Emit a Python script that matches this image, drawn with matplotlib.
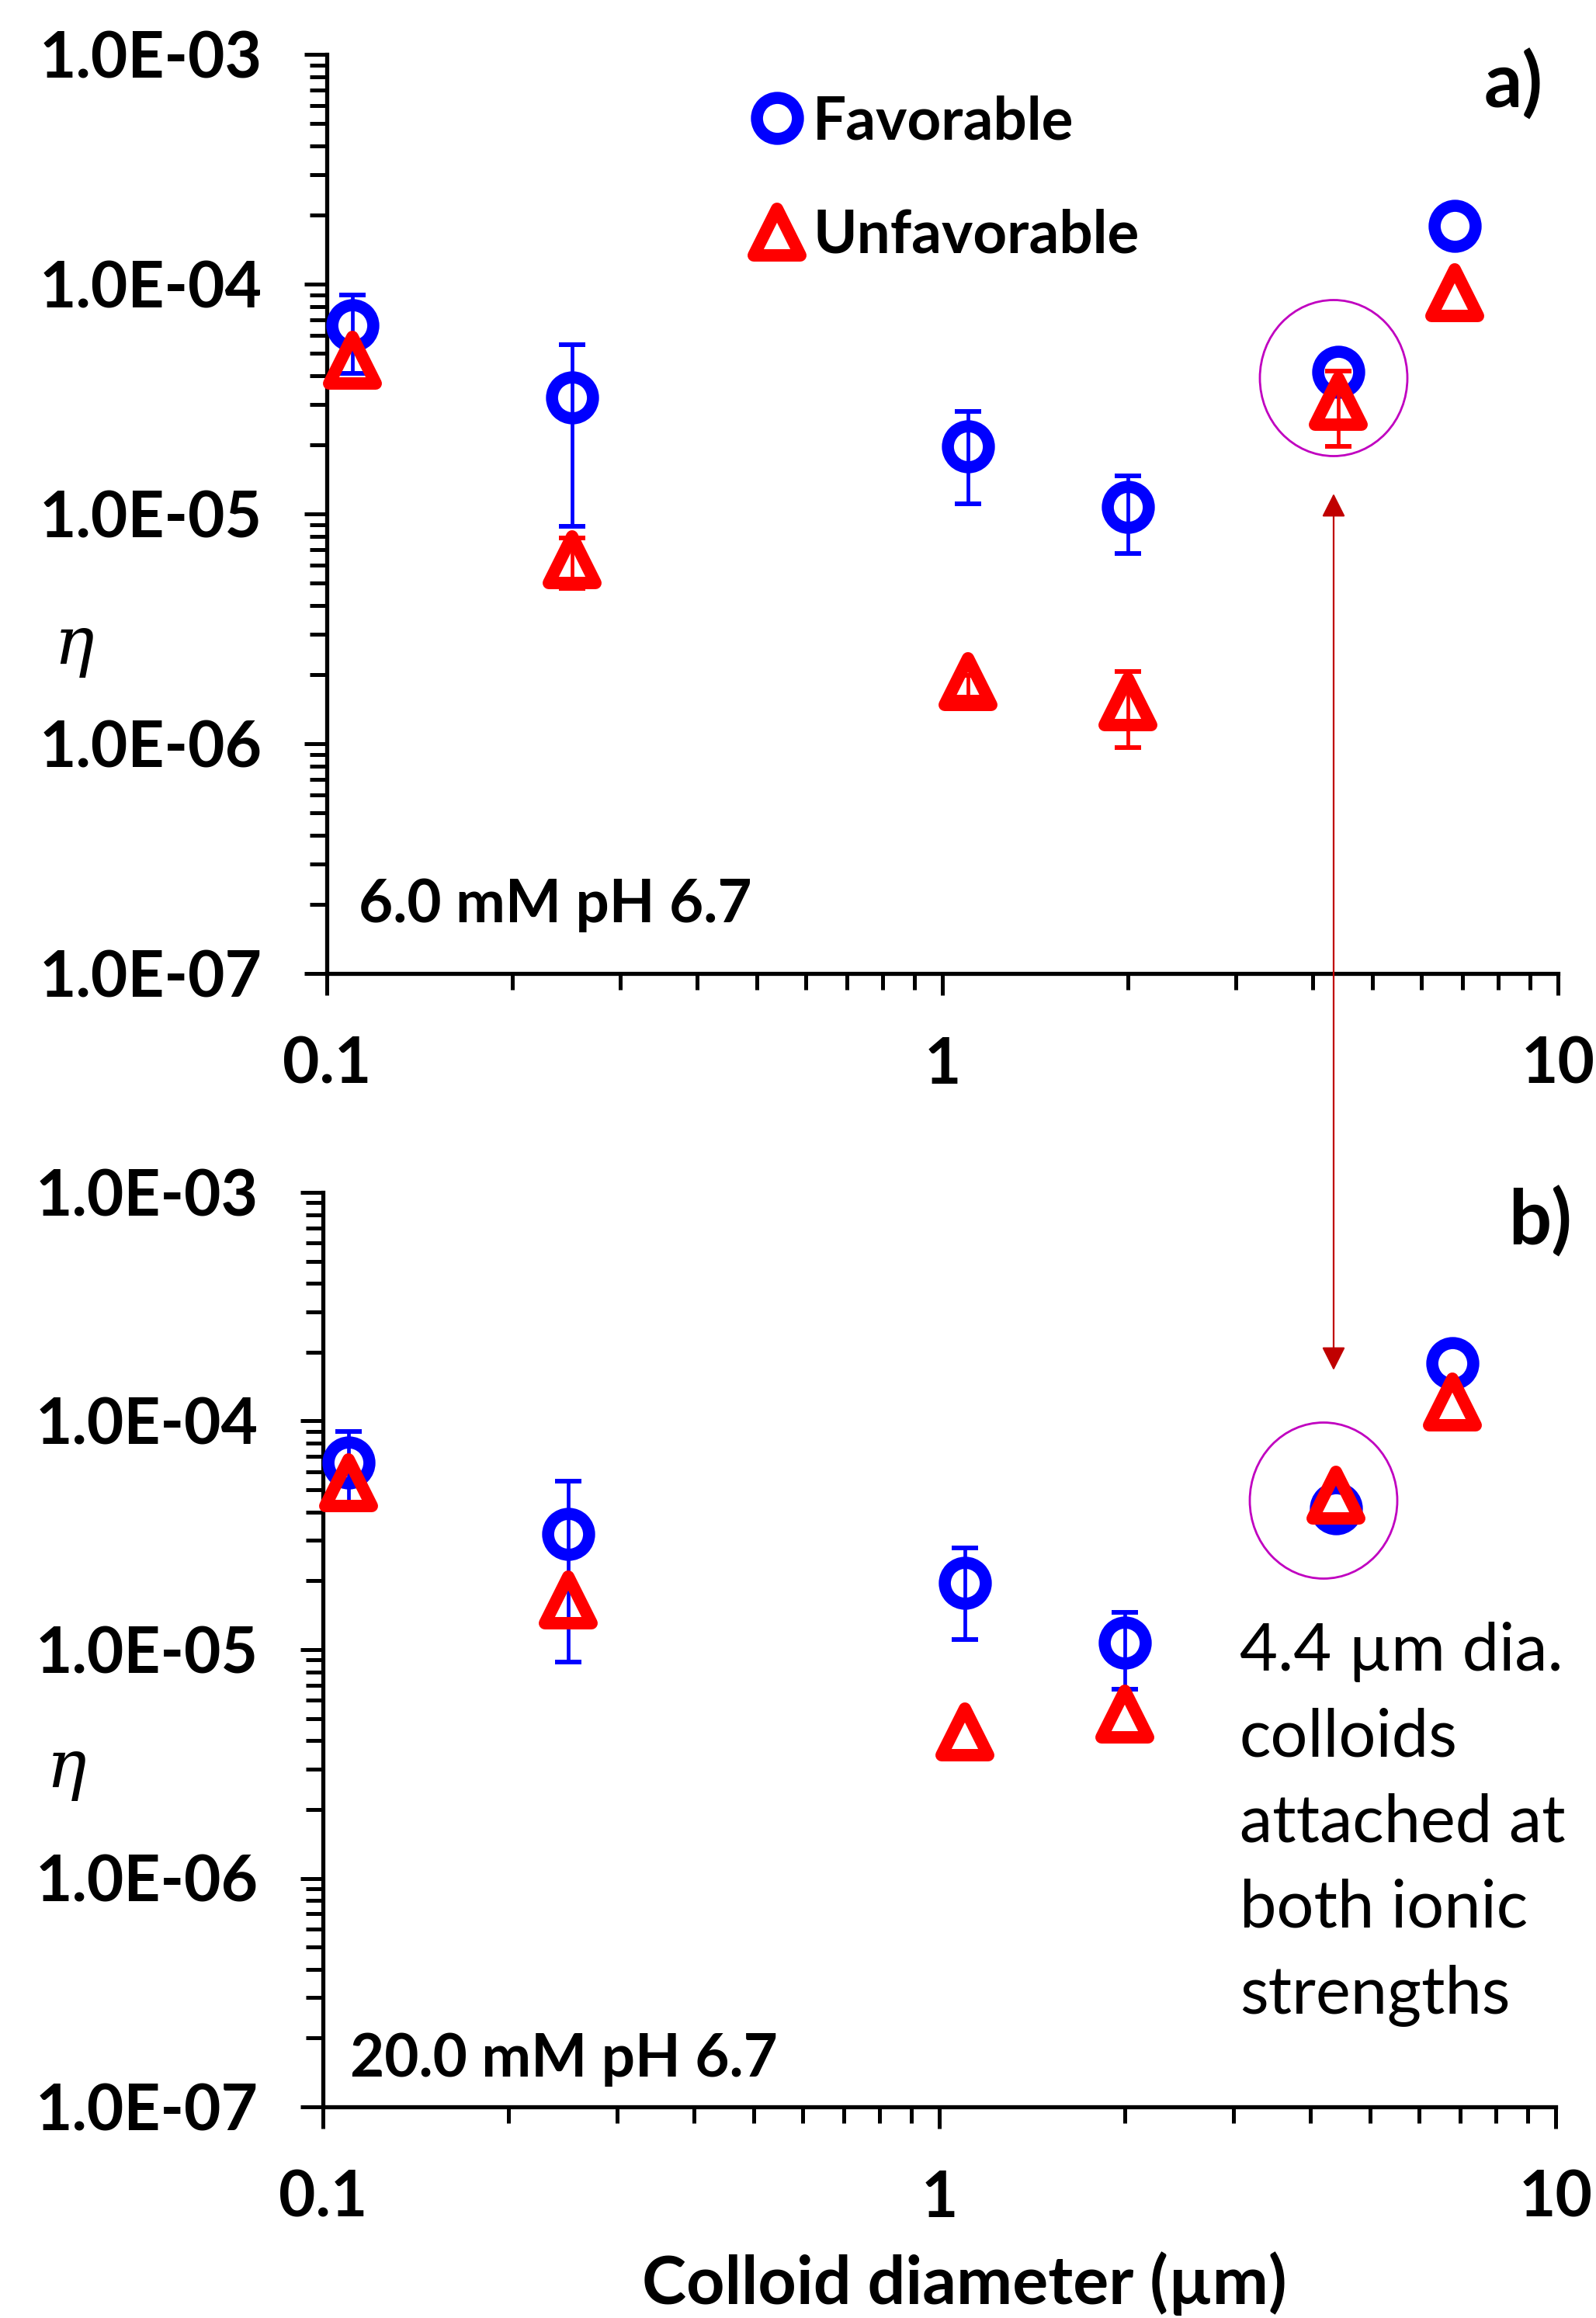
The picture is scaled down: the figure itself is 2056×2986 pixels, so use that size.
import numpy as np
import matplotlib
matplotlib.use("Agg")
import matplotlib.pyplot as plt
from matplotlib.lines import Line2D
from matplotlib.patches import Ellipse, FancyArrowPatch
from matplotlib.markers import MarkerStyle
from matplotlib.ticker import FixedLocator, FuncFormatter, LogLocator, NullFormatter

# ---------------- data ----------------
diameter_um = [0.11, 0.25, 1.1, 2.0, 4.4, 6.8]

fav_eta = [6.6e-5, 3.2e-5, 1.96e-5, 1.07e-5, 4.15e-5, 1.79e-4]
fav_hi = [9.0e-5, 5.45e-5, 2.79e-5, 1.46e-5, np.nan, np.nan]
fav_lo = [4.1e-5, 8.8e-6, 1.11e-5, 6.7e-6, np.nan, np.nan]

unf6_eta = [4.66e-5, 6.3e-6, 1.86e-6, 1.52e-6, 3.08e-5, 9.16e-5]
unf6_hi = [np.nan, 7.85e-6, 1.98e-6, 2.06e-6, 4.19e-5, np.nan]
unf6_lo = [np.nan, 4.74e-6, 1.59e-6, 9.6e-7, 1.97e-5, np.nan]

unf20_eta = [5.36e-5, 1.65e-5, 4.35e-6, 5.24e-6, 4.74e-5, 1.21e-4]

y_ticks = [1e-7, 1e-6, 1e-5, 1e-4, 1e-3]
x_ticks = [0.1, 1, 10]
x_ticklabels = ["0.1", "1", "10"]
legend_labels = ["Favorable", "Unfavorable"]
panel_letters = ["a)", "b)"]
condition_labels = ["6.0 mM pH 6.7", "20.0 mM pH 6.7"]
note_text = "4.4 \u00b5m dia.\ncolloids\nattached at\nboth ionic\nstrengths"
x_label = "Colloid diameter (\u00b5m)"
y_label = "\u03b7"

# ---------------- style ----------------
W, H = 2056, 2986
DPI = 100
FONT = "Lato"
FS = 55
FS_TICK = 59
BLUE = "#0000FF"
RED = "#FF0000"

plt.rcParams["font.family"] = [FONT, "DejaVu Sans"]

fig = plt.figure(figsize=(W / DPI, H / DPI), dpi=DPI)


def fx(px):
    return px / W


def fy(py):
    return 1 - py / H


ax1 = fig.add_axes([fx(421), fy(1254), fx(2007) - fx(421), fy(70) - fy(1254)])
ax2 = fig.add_axes([fx(416), fy(2714), fx(2004) - fx(416), fy(1536) - fy(2714)])

circ = MarkerStyle("o")
tri = MarkerStyle("^", joinstyle="round")
circ_kw = dict(marker=circ, ms=38, mew=11.2, mec=BLUE, mfc="none", ls="none", clip_on=False, zorder=5)
tri_kw = dict(marker=tri, ms=43, mew=11.5, mec=RED, mfc="none", ls="none", clip_on=False, zorder=7)
err_kw = dict(fmt="none", elinewidth=3.4, capsize=12.3, capthick=4.3, clip_on=False)


def draw_errors(ax, x, eta, hi, lo, color, z):
    x = np.asarray(x, float)
    eta = np.asarray(eta, float)
    hi = np.asarray(hi, float)
    lo = np.asarray(lo, float)
    m = ~np.isnan(hi)
    ax.errorbar(x[m], eta[m], yerr=[eta[m] - lo[m], hi[m] - eta[m]], ecolor=color, zorder=z, **err_kw)


def style_axes(ax):
    ax.set_xscale("log")
    ax.set_yscale("log")
    ax.set_xlim(0.1, 10)
    ax.set_ylim(1e-7, 1e-3)
    for s in ["top", "right"]:
        ax.spines[s].set_visible(False)
    for s in ["left", "bottom"]:
        ax.spines[s].set_linewidth(3.8)
    ax.yaxis.set_major_locator(FixedLocator(y_ticks))
    ax.yaxis.set_major_formatter(FuncFormatter(lambda v, p: f"{v:.1E}"))
    ax.yaxis.set_minor_locator(LogLocator(base=10, subs=np.arange(2, 10)))
    ax.yaxis.set_minor_formatter(NullFormatter())
    ax.xaxis.set_major_locator(FixedLocator(x_ticks))
    ax.xaxis.set_major_formatter(FuncFormatter(lambda v, p: x_ticklabels[x_ticks.index(v)] if v in x_ticks else ""))
    ax.xaxis.set_minor_locator(LogLocator(base=10, subs=np.arange(2, 10)))
    ax.xaxis.set_minor_formatter(NullFormatter())
    ax.tick_params(axis="y", which="major", direction="out", length=21, width=3.6, pad=39)
    ax.tick_params(axis="y", which="minor", direction="out", length=16, width=3.6)
    ax.tick_params(axis="x", which="major", direction="out", length=20, width=3.6, pad=38)
    ax.tick_params(axis="x", which="minor", direction="out", length=15, width=3.6)
    for lab in ax.get_xticklabels() + ax.get_yticklabels():
        lab.set_fontsize(FS_TICK)
        lab.set_fontweight("bold")
        lab.set_fontfamily(FONT)


for ax, unf, uhi, ulo in [(ax1, unf6_eta, unf6_hi, unf6_lo),
                          (ax2, unf20_eta, [np.nan] * 6, [np.nan] * 6)]:
    style_axes(ax)
    ax.plot(diameter_um, fav_eta, **circ_kw)
    draw_errors(ax, diameter_um, fav_eta, fav_hi, fav_lo, BLUE, 6)
    ax.plot(diameter_um, unf, **tri_kw)
    if not np.all(np.isnan(uhi)):
        draw_errors(ax, diameter_um, unf, uhi, ulo, RED, 8)

# legend (top panel)
handles = [Line2D([], [], marker=circ, ms=38, mew=11.2, mec=BLUE, mfc="none", ls="none"),
           Line2D([], [], marker=tri, ms=43, mew=11.5, mec=RED, mfc="none", ls="none")]
leg = ax1.legend(handles, legend_labels, loc="upper left", bbox_to_anchor=(0.3515, 0.956),
                 frameon=False, handlelength=0.6, handletextpad=0.3, labelspacing=1.0,
                 borderpad=0, borderaxespad=0, prop=dict(family=FONT, weight="bold", size=FS))

# panel letters and condition labels
fig.text(fx(1950), fy(108), panel_letters[0], ha="center", va="center", fontsize=70, fontweight="bold")
fig.text(fx(1984), fy(1573), panel_letters[1], ha="center", va="center", fontsize=70, fontweight="bold")
fig.text(fx(462), fy(1188), condition_labels[0], ha="left", va="baseline", fontsize=FS, fontweight="bold")
fig.text(fx(451), fy(2675), condition_labels[1], ha="left", va="baseline", fontsize=FS, fontweight="bold")

# y labels (eta)
fig.text(fx(95), fy(832), y_label, ha="center", va="center", fontsize=62, family="DejaVu Serif", style="italic")
fig.text(fx(85), fy(2279), y_label, ha="center", va="center", fontsize=62, family="DejaVu Serif", style="italic")

# x label
fig.text(fx(1242), fy(2968), x_label, ha="center", va="baseline", fontsize=62, fontweight="bold")

# note (baseline of the last line)
fig.text(fx(1597), fy(2593), note_text, ha="left", va="baseline", fontsize=61, linespacing=1.51,
         multialignment="left")

# ellipses
for (cx, cy) in [(1718, 487), (1705, 1933)]:
    e = Ellipse((cx / DPI, (H - cy) / DPI), 190 / DPI, 201 / DPI, transform=fig.dpi_scale_trans,
                fill=False, edgecolor="#C000C0", lw=2.0, clip_on=False)
    fig.add_artist(e)

# double arrow
arr = FancyArrowPatch((1718 / DPI, (H - 636) / DPI), (1718 / DPI, (H - 1765) / DPI),
                      arrowstyle="<|-|>,head_length=0.93,head_width=0.47", mutation_scale=20,
                      transform=fig.dpi_scale_trans, color="#C00000", lw=1.6, shrinkA=0, shrinkB=0)
fig.add_artist(arr)

fig.savefig("out.png", dpi=DPI)
